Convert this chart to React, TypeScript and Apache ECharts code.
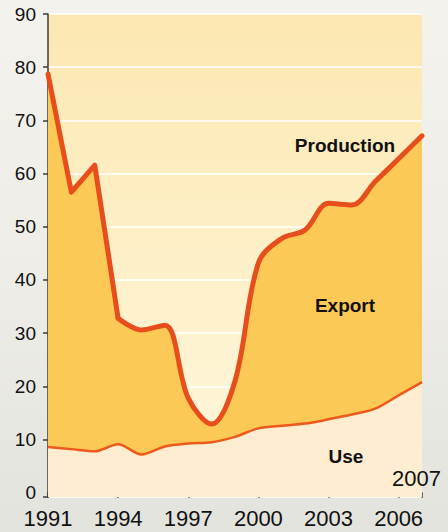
import React, { useEffect, useRef } from 'react';
import * as echarts from 'echarts';

const years = ['1991', '1992', '1993', '1994', '1995', '1996', '1997', '1998', '1999', '2000', '2001', '2002', '2003', '2004', '2005', '2006', '2007'];
const production = [78.7, 56.5, 61.6, 32.8, 30.6, 31.5, 17.8, 12.9, 21.0, 43.2, 47.8, 49.4, 54.4, 54.1, 58.5, 62.8, 67.1];
const use = [8.6, 8.2, 7.8, 9.1, 7.2, 8.7, 9.25, 9.5, 10.5, 12.1, 12.6, 13.0, 13.8, 14.7, 15.8, 18.3, 20.8];
const yLabelValues = [0, 10, 20, 30, 40, 50, 60, 70, 80, 90];
const yTickValues = [-0.8, 10, 20, 30, 40, 50, 60, 70, 80, 90];
const seriesNames = ['Production', 'Export', 'Use'];
const endYearLabel = '2007';
// index where the production line changes from straight segments to a smooth curve
const productionBreak = 3;

export default function App() {
  const ref = useRef<HTMLDivElement>(null);
  useEffect(() => {
    const chart = echarts.init(ref.current as HTMLDivElement, null, { renderer: 'svg' });
    const axisColor = '#3c3c3c';
    const prodEarly = production.map((v, i) => (i <= productionBreak ? v : null));
    // area-only filler one point further, beneath both parts, to hide the seam
    const prodFiller = production.map((v, i) => (i <= productionBreak + 1 ? v : null));
    const prodLate = production.map((v, i) => (i >= productionBreak ? v : null));
    const prodLine = { color: '#e84e1b', width: 5, join: 'round', cap: 'round' };
    const prodArea = { color: '#fcc856', opacity: 1, origin: 'start' };
    chart.setOption({
      animation: false,
      backgroundColor: 'transparent',
      grid: {
        left: 48,
        right: 26,
        top: 14,
        bottom: 35,
        show: true,
        borderWidth: 0,
        backgroundColor: new echarts.graphic.LinearGradient(0, 0, 0, 1, [
          { offset: 0, color: '#fce7b1' },
          { offset: 1, color: '#fff8de' },
        ]),
      },
      xAxis: {
        type: 'category',
        data: years,
        boundaryGap: false,
        axisLine: { lineStyle: { color: axisColor, width: 1.5 } },
        axisTick: {
          interval: (i: number) => i % 3 === 0 || i === years.length - 1,
          length: 5,
          lineStyle: { color: axisColor, width: 1.5 },
        },
        axisLabel: {
          interval: (i: number) => i % 3 === 0,
          fontFamily: '"Liberation Sans Narrow", "Liberation Sans", Arial, sans-serif',
          fontSize: 22,
          color: '#111',
          margin: 10,
        },
        splitLine: { show: false },
      },
      yAxis: {
        type: 'value',
        min: -0.8,
        max: 90,
        axisLine: { show: true, lineStyle: { color: axisColor, width: 1.5 } },
        axisTick: {
          show: true,
          length: 5,
          customValues: yTickValues,
          lineStyle: { color: axisColor, width: 1.5 },
        },
        axisLabel: {
          customValues: yLabelValues,
          fontFamily: '"Liberation Sans", Arial, sans-serif',
          fontSize: 19,
          color: '#111',
          margin: 12,
        },
        splitLine: { show: true, lineStyle: { color: '#ffffff', width: 1.5 } },
      },
      series: [
        {
          name: 'Production filler',
          type: 'line',
          data: prodFiller,
          smooth: false,
          symbol: 'none',
          lineStyle: { width: 0, opacity: 0 },
          areaStyle: prodArea,
          z: 1,
        },
        {
          name: 'Production',
          type: 'line',
          data: prodEarly,
          smooth: false,
          symbol: 'none',
          lineStyle: prodLine,
          areaStyle: prodArea,
          z: 2,
        },
        {
          name: 'Production ',
          type: 'line',
          data: prodLate,
          smooth: 0.35,
          symbol: 'none',
          lineStyle: prodLine,
          areaStyle: prodArea,
          z: 3,
        },
        {
          name: 'Use',
          type: 'line',
          data: use,
          smooth: 0.3,
          symbol: 'none',
          lineStyle: { color: '#ee5a1c', width: 2.5 },
          areaStyle: { color: '#feedd1', opacity: 1, origin: 'start' },
          z: 4,
        },
      ],
      graphic: [
        {
          type: 'text', x: 345, y: 145, z: 10,
          style: { text: seriesNames[0], font: 'bold 19px "Liberation Sans", Arial, sans-serif', fill: '#111', align: 'center', verticalAlign: 'middle' },
        },
        {
          type: 'text', x: 345, y: 305, z: 10,
          style: { text: seriesNames[1], font: 'bold 19px "Liberation Sans", Arial, sans-serif', fill: '#111', align: 'center', verticalAlign: 'middle' },
        },
        {
          type: 'text', x: 346, y: 456, z: 10,
          style: { text: seriesNames[2], font: 'bold 19px "Liberation Sans", Arial, sans-serif', fill: '#111', align: 'center', verticalAlign: 'middle' },
        },
        {
          type: 'text', x: 441, y: 478, z: 10,
          style: { text: endYearLabel, font: '22px "Liberation Sans Narrow", "Liberation Sans", Arial, sans-serif', fill: '#111', align: 'right', verticalAlign: 'middle' },
        },
      ],
    });
    return () => chart.dispose();
  }, []);
  return (
    <div
      style={{
        position: 'fixed',
        left: 0,
        top: 0,
        width: 448,
        height: 532,
        background: 'linear-gradient(180deg, #f3f2ed 0%, #eeede8 50%, #e3e3de 100%)',
      }}
    >
      <div ref={ref} style={{ width: 448, height: 532 }} />
    </div>
  );
}
